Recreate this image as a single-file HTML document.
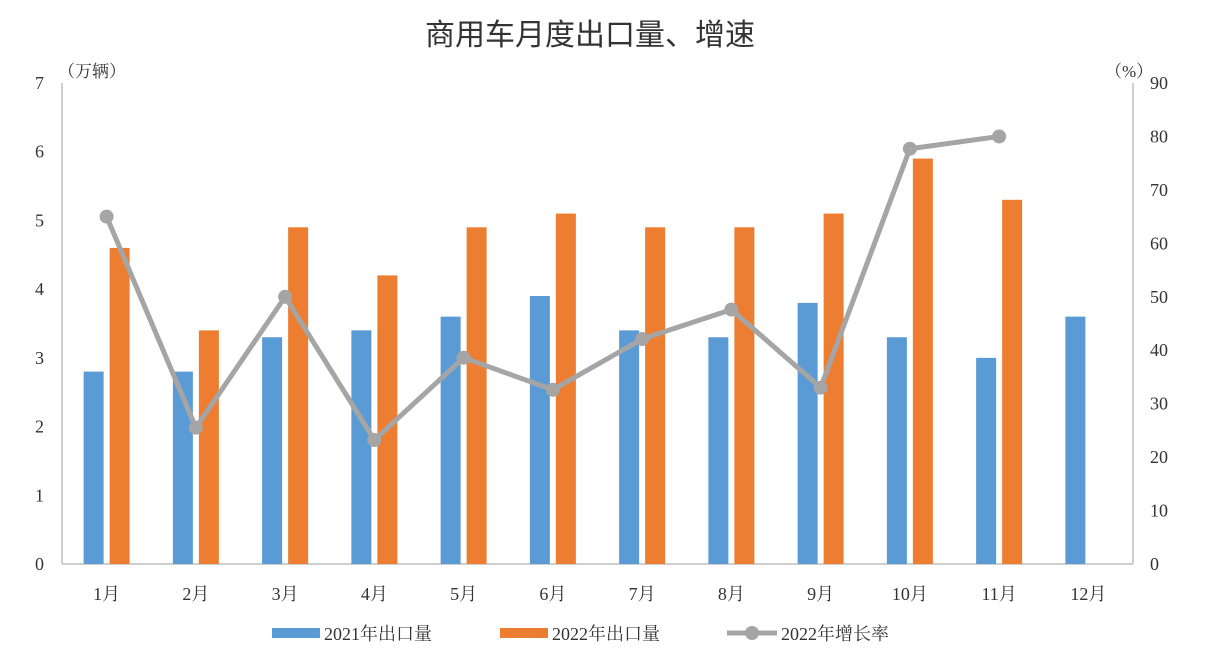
<!DOCTYPE html>
<html><head><meta charset="utf-8"><style>
body{margin:0;background:#fff;}
svg text{font-family:"Liberation Serif","Noto Serif CJK SC",serif;fill:#333;}
</style></head><body>
<svg id="chart" width="1223" height="662" xmlns="http://www.w3.org/2000/svg">
<text x="590" y="45" font-size="30" text-anchor="middle" style="font-family:'Liberation Sans','Noto Sans CJK SC',sans-serif">商用车月度出口量、增速</text>
<text x="58" y="77" font-size="17">（万辆）</text>
<text x="1105" y="77" font-size="17">（%）</text>
<g id="axes"></g><g id="bars"></g><g id="line"></g>
<g>
<rect x="272" y="628" width="48" height="10" fill="#5b9bd5"/>
<text x="324" y="640" font-size="18">2021年出口量</text>
<rect x="500" y="628" width="48" height="10" fill="#ed7d31"/>
<text x="552" y="640" font-size="18">2022年出口量</text>
<line x1="727" y1="633" x2="777" y2="633" stroke="#a5a5a5" stroke-width="5"/>
<circle cx="752" cy="633" r="7" fill="#a5a5a5"/>
<text x="781" y="640" font-size="18">2022年增长率</text>
</g>
</svg>
<script>
const categories=["1月","2月","3月","4月","5月","6月","7月","8月","9月","10月","11月","12月"];
const exports2021=[2.8,2.8,3.3,3.4,3.6,3.9,3.4,3.3,3.8,3.3,3.0,3.6];
const exports2022=[4.6,3.4,4.9,4.2,4.9,5.1,4.9,4.9,5.1,5.9,5.3];
const growth2022=[65,25.5,50,23.2,38.6,32.6,42.1,47.6,33,77.7,80];
const leftTicks=[0,1,2,3,4,5,6,7];
const rightTicks=[0,10,20,30,40,50,60,70,80,90];
const NS="http://www.w3.org/2000/svg";
const X0=62,X1=1133,Y0=564,YT=83;
const yL=v=>Y0-(Y0-YT)*v/7;
const yR=v=>Y0-(Y0-YT)*v/90;
const bw=(X1-X0)/categories.length;
const xc=i=>X0+bw*(i+0.5);
function mk(tag,attrs,parent){const e=document.createElementNS(NS,tag);for(const k in attrs)e.setAttribute(k,attrs[k]);document.getElementById(parent).appendChild(e);return e;}
let e;
e=mk("line",{x1:X0,y1:YT,x2:X0,y2:Y0,stroke:"#bfbfbf","stroke-width":1.5},"axes");


e=mk("line",{x1:X1,y1:YT,x2:X1,y2:Y0,stroke:"#bfbfbf","stroke-width":1.5},"axes");


e=mk("line",{x1:X0,y1:Y0,x2:X1,y2:Y0,stroke:"#bfbfbf","stroke-width":1.5},"axes");


leftTicks.forEach(v=>{e=mk("text",{x:44,y:yL(v)+6,"font-size":18,"text-anchor":"end"},"axes");e.textContent=v;

});
rightTicks.forEach(v=>{e=mk("text",{x:1150,y:yR(v)+6,"font-size":18},"axes");e.textContent=v;

});
categories.forEach((c,i)=>{e=mk("text",{x:xc(i),y:600,"font-size":18,"text-anchor":"middle"},"axes");e.textContent=c;

});
exports2021.forEach((v,i)=>{e=mk("rect",{x:xc(i)-23,y:yL(v),width:20,height:Y0-yL(v),fill:"#5b9bd5"},"bars");

});
exports2022.forEach((v,i)=>{e=mk("rect",{x:xc(i)+3,y:yL(v),width:20,height:Y0-yL(v),fill:"#ed7d31"},"bars");

});
e=mk("polyline",{points:growth2022.map((v,i)=>xc(i)+","+yR(v)).join(" "),fill:"none",stroke:"#a5a5a5","stroke-width":5,"stroke-linejoin":"round"},"line");


growth2022.forEach((v,i)=>{e=mk("circle",{cx:xc(i),cy:yR(v),r:7,fill:"#a5a5a5"},"line");

});
</script>
</body></html>
